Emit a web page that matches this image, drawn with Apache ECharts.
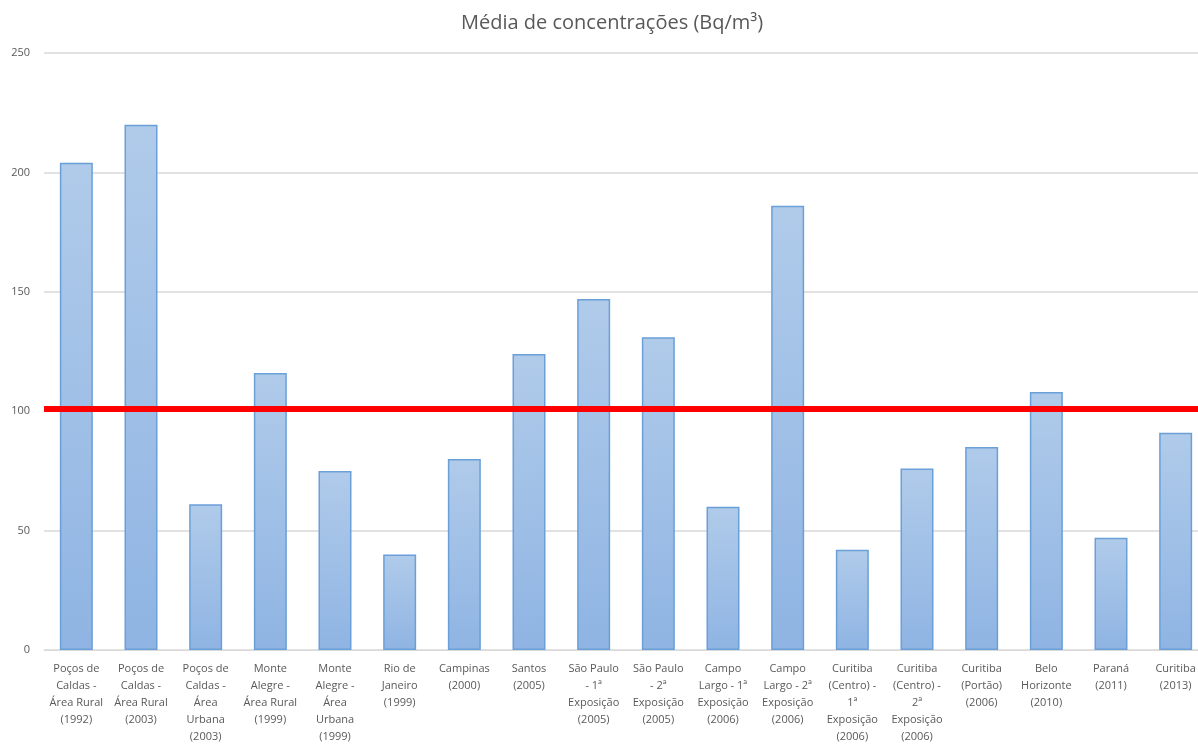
<!DOCTYPE html>
<html>
<head>
<meta charset="utf-8">
<script src="https://cdn.jsdelivr.net/npm/echarts@6/dist/echarts.min.js"></script>
<style>
html, body { margin: 0; padding: 0; background: #fff; overflow: hidden; }
#container { width: 1208px; height: 746px; }
</style>
</head>
<body>
<div id="container"></div>
<script>
// média de concentrações de radônio por local/ano
var categorias = [
    'Poços de\nCaldas -\nÁrea Rural\n(1992)',
    'Poços de\nCaldas -\nÁrea Rural\n(2003)',
    'Poços de\nCaldas -\nÁrea\nUrbana\n(2003)',
    'Monte\nAlegre -\nÁrea Rural\n(1999)',
    'Monte\nAlegre -\nÁrea\nUrbana\n(1999)',
    'Rio de\nJaneiro\n(1999)',
    'Campinas\n(2000)',
    'Santos\n(2005)',
    'São Paulo\n- 1ª\nExposição\n(2005)',
    'São Paulo\n- 2ª\nExposição\n(2005)',
    'Campo\nLargo - 1ª\nExposição\n(2006)',
    'Campo\nLargo - 2ª\nExposição\n(2006)',
    'Curitiba\n(Centro) -\n1ª\nExposição\n(2006)',
    'Curitiba\n(Centro) -\n2ª\nExposição\n(2006)',
    'Curitiba\n(Portão)\n(2006)',
    'Belo\nHorizonte\n(2010)',
    'Paraná\n(2011)',
    'Curitiba\n(2013)'
];
var medias = [204, 220, 61, 116, 75, 40, 80, 124, 147, 131, 60, 186, 42, 76, 85, 108, 47, 91];
var limite = 101;

// o gráfico original é cortado à direita: o canvas é um pouco mais largo que a janela
var dom = document.getElementById("container");
var myChart = echarts.init(dom);

var option = {
    backgroundColor: '#ffffff',
    animation: false,
    title: {
        text: 'Média de concentrações (Bq/m³)',
        left: 456,
        top: 8,
        textStyle: {
            fontFamily: 'Open Sans',
            fontSize: 20,
            fontWeight: 'normal',
            color: '#595959'
        }
    },
    grid: {
        left: 44,
        right: 0,
        top: 53,
        bottom: 96,
        containLabel: false
    },
    xAxis: {
        type: 'category',
        data: categorias,
        axisLine: { lineStyle: { color: '#d9d9d9' } },
        axisTick: { show: false },
        axisLabel: {
            interval: 0,
            color: '#595959',
            fontFamily: 'Open Sans',
            fontSize: 11,
            lineHeight: 17,
            margin: 10
        }
    },
    yAxis: {
        type: 'value',
        min: 0,
        max: 250,
        interval: 50,
        axisLine: { show: false },
        axisTick: { show: false },
        axisLabel: {
            color: '#595959',
            fontFamily: 'Open Sans',
            fontSize: 11,
            margin: 14
        },
        splitLine: { lineStyle: { color: '#d9d9d9', width: 1.5 } }
    },
    series: [
        {
            name: 'Média',
            type: 'bar',
            data: medias,
            barCategoryGap: '49%',
            itemStyle: {
                color: new echarts.graphic.LinearGradient(0, 0, 0, 1, [
                    { offset: 0, color: '#b0cbea' },
                    { offset: 1, color: '#8fb4e3' }
                ]),
                borderColor: '#6a9fd8',
                borderWidth: 1.5
            },
            markLine: {
                silent: true,
                symbol: 'none',
                label: { show: false },
                lineStyle: { color: '#ff0000', width: 6, type: 'solid' },
                data: [{ yAxis: limite }]
            }
        }
    ]
};

myChart.setOption(option, true);
</script>
</body>
</html>
